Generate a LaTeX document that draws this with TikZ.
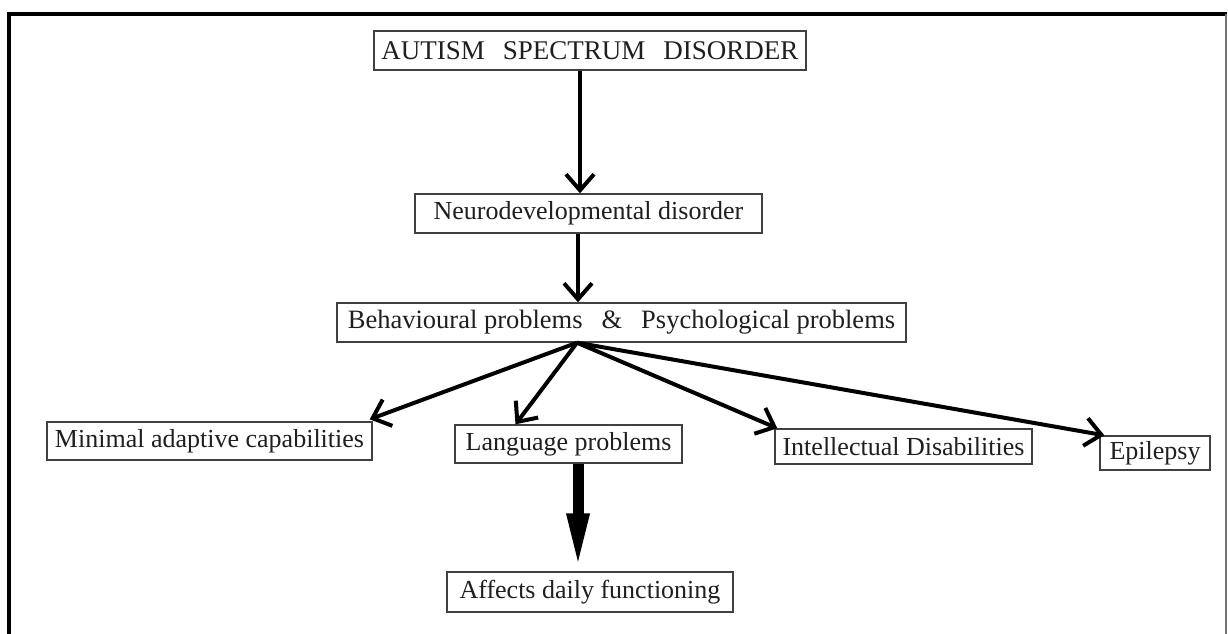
\documentclass[tikz,border=0pt]{standalone}
\usepackage{fontspec}
\setmainfont{Liberation Serif}
\usetikzlibrary{arrows.meta}
\tikzset{
  box/.style={draw=black!75, line width=1.4pt, inner sep=0pt, font=\fontsize{26}{30}\selectfont, text=black!88, anchor=center},
  arr/.style={line width=4pt, -{Straight Barb[length=16pt,width=28pt,line width=4pt]}},
  fat/.style={line width=11pt, -{Triangle[length=58pt,width=20pt]}}
}
\begin{document}
\begin{tikzpicture}[x=1pt,y=-1pt]
\useasboundingbox (0,0) rectangle (1228,633);
\fill[white] (0,0) rectangle (1228,633);
% frame
\draw[line width=3.5pt] (9,640) -- (9,14) -- (1227,14);
\draw[line width=1.5pt, black!55] (1226,14) -- (1226,640);
% nodes
\node[box, minimum width=432pt, minimum height=39pt] (asd) at (590,50.5) {\fontsize{27}{31}\selectfont AUTISM\hspace{18pt}SPECTRUM\hspace{18pt}DISORDER};
\node[box, minimum width=347pt, minimum height=39pt] (neuro) at (588.5,213.5) {Neurodevelopmental disorder};
\node[box, minimum width=569pt, minimum height=39pt] (behav) at (621.5,322.5) {\fontsize{26.5}{30}\selectfont Behavioural problems\hspace{19pt}\&\hspace{19pt}Psychological problems};
\node[box, minimum width=325pt, minimum height=38pt] (minimal) at (209.5,441) {Minimal adaptive capabilities};
\node[box, minimum width=227pt, minimum height=38pt] (lang) at (568.5,444) {Language problems};
\node[box, minimum width=257pt, minimum height=35pt] (intel) at (903.5,446.5) {Intellectual Disabilities};
\node[box, minimum width=110pt, minimum height=34pt] (epi) at (1155,453) {Epilepsy};
\node[box, minimum width=286pt, minimum height=40pt] (aff) at (590,592) {Affects daily functioning};
\coordinate (hub) at ([xshift=-44.5pt]behav.south);
% connectors
\draw[arr] ([xshift=-10pt]asd.south) -- ([xshift=-8.5pt]neuro.north);
\draw[arr] ([xshift=-10.5pt]neuro.south) -- ([xshift=-43.5pt]behav.north);
\draw[arr] (hub) -- ([xshift=-3pt,yshift=2pt]minimal.north east);
\draw[arr] (hub) -- ([xshift=-53pt]lang.north);
\draw[arr] (hub) -- ([xshift=3pt]intel.north west);
\draw[arr] (hub) -- ([xshift=5pt]epi.north west);
\draw[fat] ([xshift=9.5pt]lang.south) -- ([xshift=-12pt]aff.north);
\end{tikzpicture}
\end{document}
